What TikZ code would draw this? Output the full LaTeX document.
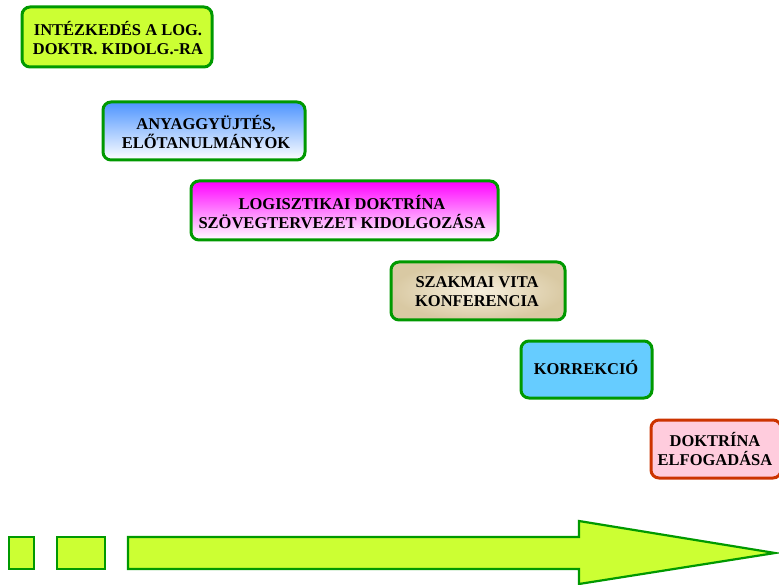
\documentclass[tikz,border=0pt]{standalone}
\usepackage{fontspec}
\setmainfont{Liberation Serif}
\usetikzlibrary{shapes.geometric}
\definecolor{bgreen}{HTML}{009900}
\definecolor{lime}{HTML}{CCFF33}
\definecolor{sky}{HTML}{4D94FF}
\definecolor{mag}{HTML}{FF00FF}
\definecolor{beigeA}{HTML}{F7F0DE}
\definecolor{beigeB}{HTML}{D9C9A3}
\definecolor{lblue}{HTML}{66CCFF}
\definecolor{pinkf}{HTML}{FFCCDD}
\definecolor{redb}{HTML}{CC3300}
\tikzset{
  stagebox/.style={draw=bgreen, line width=3pt, rounded corners=8pt},
  stagetext/.style={align=center, font=\fontsize{16.5}{19}\selectfont\bfseries, inner sep=0pt},
  barpart/.style={draw=bgreen, line width=2.2pt, fill=lime}
}
\begin{document}
\begin{tikzpicture}[x=1pt,y=-1pt]
\useasboundingbox (0,0) rectangle (779,585);
% boxes
\draw[stagebox, fill=lime] (22,7) rectangle (212,67);
\node[stagetext] (b1) at (118,38) {INTÉZKEDÉS A LOG.\\DOKTR. KIDOLG.-RA};
\draw[stagebox, top color=sky, bottom color=white] (103,102) rectangle (305,160);
\node[stagetext] (b2) at (206,132) {ANYAGGYÜJTÉS,\\ELŐTANULMÁNYOK};
\draw[stagebox, top color=mag, bottom color=white] (191,181) rectangle (498,240);
\node[stagetext] (b3) at (342,212) {LOGISZTIKAI DOKTRÍNA\\SZÖVEGTERVEZET KIDOLGOZÁSA};
\draw[stagebox, inner color=beigeA, outer color=beigeB] (391,262) rectangle (565,320);
\node[stagetext] (b4) at (477,292) {SZAKMAI VITA\\KONFERENCIA};
\draw[stagebox, fill=lblue] (521,341) rectangle (652,398);
\node[stagetext] (b5) at (586,368) {KORREKCIÓ};
\draw[stagebox, draw=redb, fill=pinkf] (651,420) rectangle (781,478);
\node[stagetext] (b6) at (715,449) {DOKTRÍNA\\ELFOGADÁSA};
% bottom arrow
\draw[barpart] (9,537) rectangle (34,569);
\draw[barpart] (57,537) rectangle (105,569);
\draw[barpart, line join=miter] (128,537) -- (579,537) -- (579,521) -- (775,553) -- (579,584) -- (579,569) -- (128,569) -- cycle;
\end{tikzpicture}
\end{document}
